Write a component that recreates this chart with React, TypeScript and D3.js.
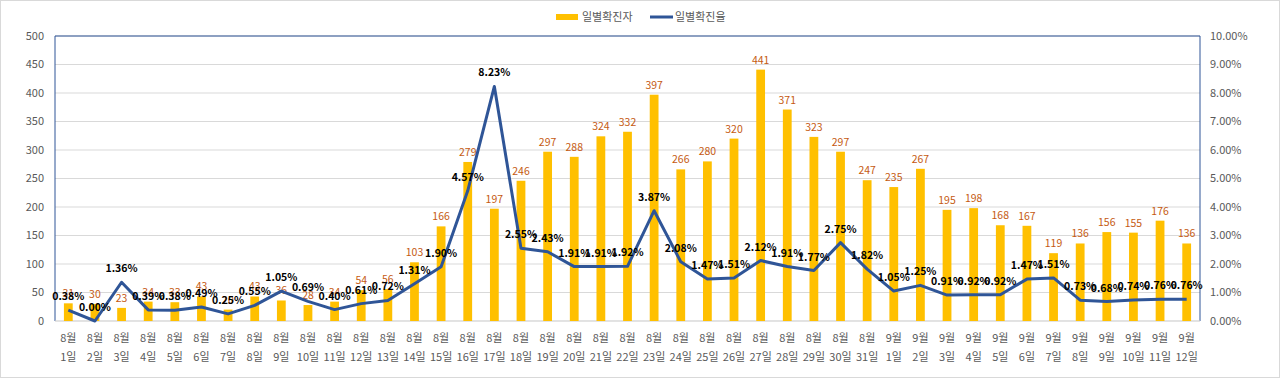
import React from "react";
import * as d3 from "d3";

const months = ["8월","8월","8월","8월","8월","8월","8월","8월","8월","8월","8월","8월","8월","8월","8월","8월","8월","8월","8월","8월","8월","8월","8월","8월","8월","8월","8월","8월","8월","8월","8월","9월","9월","9월","9월","9월","9월","9월","9월","9월","9월","9월","9월"];
const days = ["1일","2일","3일","4일","5일","6일","7일","8일","9일","10일","11일","12일","13일","14일","15일","16일","17일","18일","19일","20일","21일","22일","23일","24일","25일","26일","27일","28일","29일","30일","31일","1일","2일","3일","4일","5일","6일","7일","8일","9일","10일","11일","12일"];
const cases = [31,30,23,34,33,43,20,43,36,28,34,54,56,103,166,279,197,246,297,288,324,332,397,266,280,320,441,371,323,297,247,235,267,195,198,168,167,119,136,156,155,176,136];
const rates = [0.38,0.00,1.36,0.39,0.38,0.49,0.25,0.55,1.05,0.69,0.40,0.61,0.72,1.31,1.90,4.57,8.23,2.55,2.43,1.91,1.91,1.92,3.87,2.08,1.47,1.51,2.12,1.91,1.77,2.75,1.82,1.05,1.25,0.91,0.92,0.92,1.47,1.51,0.73,0.68,0.74,0.76,0.76];
const leftTicks = [0,50,100,150,200,250,300,350,400,450,500];
const rightTicks = [0,1,2,3,4,5,6,7,8,9,10];
const seriesNames = ["일별확진자","일별확진율"];

const W = 1280, H = 378;
const L = 55, R = 1200, T = 36, B = 321;
const FONT = "'Noto Sans CJK KR', 'Noto Sans', sans-serif";

export default function App() {
  const idx = cases.map((_, i) => i);
  const x = d3.scaleBand<number>().domain(idx).range([L, R]).paddingInner(0).paddingOuter(0);
  const yL = d3.scaleLinear().domain([0, 500]).range([B, T]);
  const yR = d3.scaleLinear().domain([0, 10]).range([B, T]);
  const bw = x.bandwidth() * 0.33;
  const cx = (i: number) => (x(i) as number) + x.bandwidth() / 2;
  const line = d3.line<number>().x((_, i) => cx(i)).y((d) => yR(d));

  return (
    <svg width={W} height={H} style={{ position: "absolute", left: 0, top: 0, background: "#fff" }} fontFamily={FONT}>
      <rect x={0.5} y={0.5} width={W - 1} height={H - 1} fill="#fff" stroke="#d9d9d9" />
      {/* gridlines */}
      {leftTicks.map((t) => (
        <line key={t} x1={L} x2={R} y1={yL(t)} y2={yL(t)} stroke="#d9d9d9" strokeWidth={1} />
      ))}
      {/* frame */}
      <line x1={L} x2={R} y1={T} y2={T} stroke="#2F5597" strokeWidth={1} />
      <line x1={L} x2={L} y1={T} y2={B} stroke="#2F5597" strokeWidth={1} />
      <line x1={R} x2={R} y1={T} y2={B} stroke="#2F5597" strokeWidth={1} />
      <line x1={L} x2={R} y1={B} y2={B} stroke="#d9d9d9" strokeWidth={1} />
      {/* left ticks */}
      {leftTicks.map((t) => (
        <text key={t} x={44} y={yL(t)} dy="0.35em" textAnchor="end" fontSize={11} fill="#595959">{t}</text>
      ))}
      {rightTicks.map((t) => (
        <text key={t} x={1210} y={yR(t)} dy="0.35em" textAnchor="start" fontSize={11} fill="#595959">{t.toFixed(2) + "%"}</text>
      ))}
      {/* bars */}
      {cases.map((v, i) => (
        <rect key={i} x={cx(i) - bw / 2} y={yL(v)} width={bw} height={B - yL(v)} fill="#FFC000" />
      ))}
      {cases.map((v, i) => (
        <text key={i} x={cx(i)} y={yL(v) - 6} textAnchor="middle" fontSize={10.5} fill="#C55A11">{v}</text>
      ))}
      {/* line */}
      <path d={line(rates) || ""} fill="none" stroke="#2F5597" strokeWidth={3} strokeLinejoin="round" />
      {rates.map((v, i) => (
        <text key={i} x={cx(i)} y={yR(v) - 10} textAnchor="middle" fontSize={10.5} fontWeight="bold" fill="#000">{v.toFixed(2) + "%"}</text>
      ))}
      {/* x labels */}
      {idx.map((i) => (
        <g key={i}>
          <text x={cx(i)} y={338} dy="0.35em" textAnchor="middle" fontSize={11} fill="#595959">{months[i]}</text>
          <text x={cx(i)} y={357} dy="0.35em" textAnchor="middle" fontSize={11} fill="#595959">{days[i]}</text>
        </g>
      ))}
      {/* legend */}
      <rect x={556} y={14} width={22} height={6} fill="#FFC000" />
      <text x={582} y={17} dy="0.35em" fontSize={11} fill="#595959">{seriesNames[0]}</text>
      <line x1={650} x2={673} y1={17} y2={17} stroke="#2F5597" strokeWidth={3} />
      <text x={675} y={17} dy="0.35em" fontSize={11} fill="#595959">{seriesNames[1]}</text>
    </svg>
  );
}
